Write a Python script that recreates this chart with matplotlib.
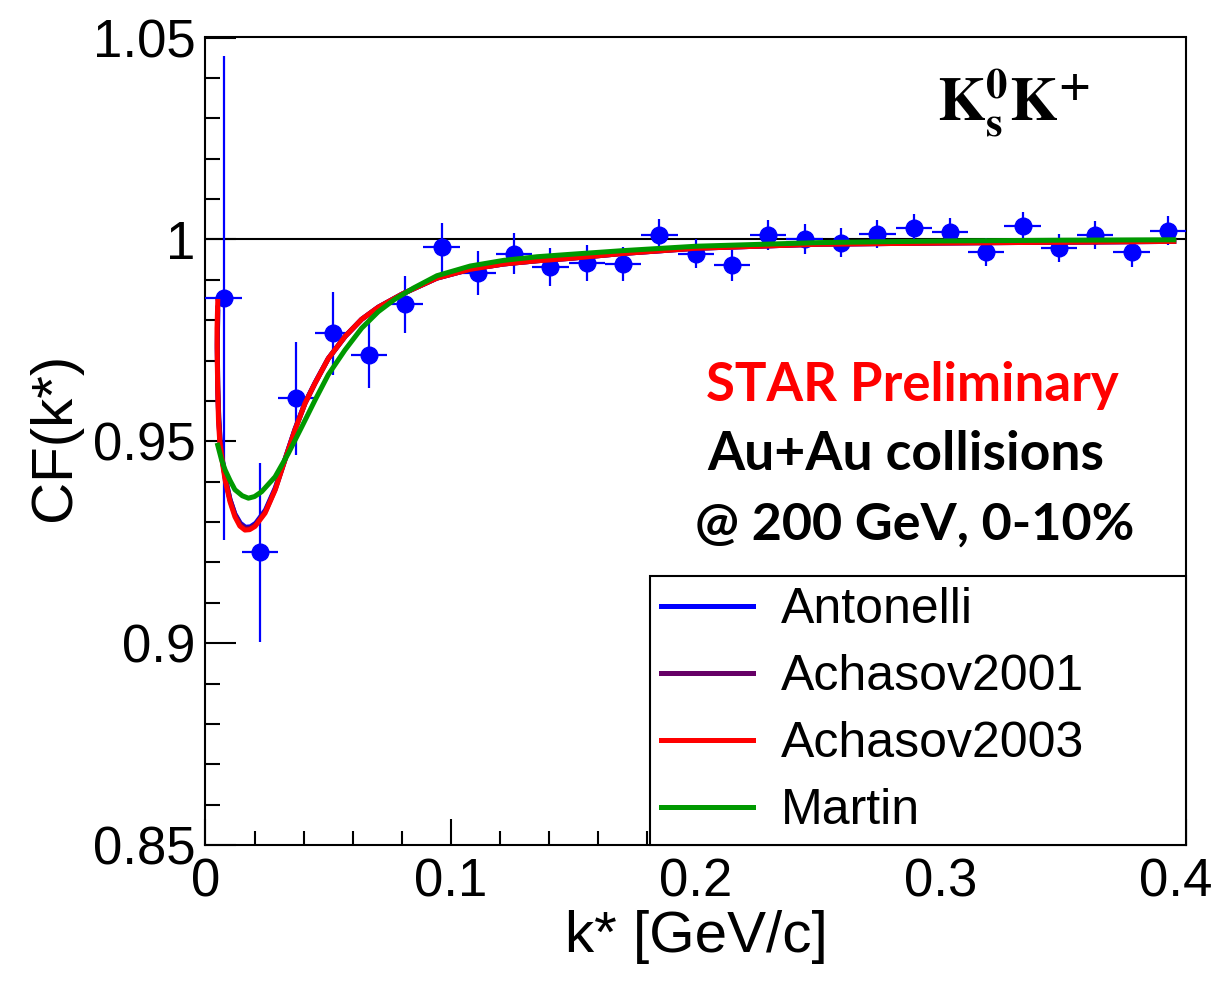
import matplotlib
matplotlib.use("Agg")
import matplotlib.pyplot as plt
import matplotlib.transforms as mtransforms
from matplotlib.ticker import MultipleLocator

plt.rcParams["font.family"] = ["Liberation Sans", "DejaVu Sans"]
plt.rcParams["mathtext.fontset"] = "stix"

# measured K0s K+ correlation function (bin centres, value, stat. error)
k_data = [0.0074, 0.0222, 0.0370, 0.0519, 0.0667, 0.0815, 0.0963, 0.1111, 0.1259,
          0.1407, 0.1556, 0.1704, 0.1852, 0.2000, 0.2148, 0.2296, 0.2444, 0.2593,
          0.2741, 0.2889, 0.3037, 0.3185, 0.3333, 0.3481, 0.3630, 0.3778, 0.3926]
cf_data = [0.9855, 0.9225, 0.9607, 0.9767, 0.9713, 0.9839, 0.9980, 0.9917, 0.9965,
           0.9931, 0.9941, 0.9939, 1.0011, 0.9965, 0.9936, 1.0011, 1.0001, 0.9992,
           1.0013, 1.0029, 1.0019, 0.9969, 1.0033, 0.9979, 1.0011, 0.9968, 1.0021]
cf_err = [0.0600, 0.0222, 0.0140, 0.0103, 0.0080, 0.0070, 0.0060, 0.0054, 0.0050,
          0.0047, 0.0045, 0.0042, 0.0040, 0.0037, 0.0038, 0.0037, 0.0036, 0.0035,
          0.0034, 0.0034, 0.0034, 0.0035, 0.0035, 0.0034, 0.0035, 0.0036, 0.0036]
k_halfwidth = 0.0074

# model curves
k_achasov03 = [0.0050, 0.0047, 0.0048, 0.0050, 0.0053, 0.0058, 0.0068, 0.0080, 0.0100,
               0.0120, 0.0140, 0.0161, 0.0180, 0.0202, 0.0243, 0.0284, 0.0324, 0.0365,
               0.0406, 0.0447, 0.0501, 0.0570, 0.0637, 0.0705, 0.0807, 0.0944, 0.1080,
               0.1216, 0.1352, 0.1488, 0.1700, 0.2000, 0.2500, 0.3000, 0.3500, 0.3950]
cf_achasov03 = [0.9846, 0.9780, 0.9700, 0.9620, 0.9550, 0.9500, 0.9450, 0.9404, 0.9350,
                0.9313, 0.9290, 0.9280, 0.9281, 0.9289, 0.9322, 0.9379, 0.9454, 0.9528,
                0.9594, 0.9644, 0.9705, 0.9760, 0.9802, 0.9832, 0.9866, 0.9904, 0.9926,
                0.9939, 0.9947, 0.9953, 0.9965, 0.9978, 0.9988, 0.9991, 0.9993, 0.9995]

k_achasov01 = [0.0050, 0.0048, 0.0050, 0.0054, 0.0060, 0.0070, 0.0082, 0.0100, 0.0120,
               0.0142, 0.0163, 0.0183, 0.0205, 0.0245, 0.0285, 0.0325, 0.0365, 0.0406,
               0.0447, 0.0501, 0.0570, 0.0637, 0.0705, 0.0807, 0.0944, 0.1080, 0.1216,
               0.1352, 0.1488, 0.1700, 0.2000, 0.2500, 0.3000, 0.3500, 0.3950]
cf_achasov01 = [0.9830, 0.9740, 0.9640, 0.9560, 0.9500, 0.9450, 0.9405, 0.9355, 0.9318,
                0.9294, 0.9284, 0.9285, 0.9294, 0.9327, 0.9382, 0.9455, 0.9528, 0.9594,
                0.9644, 0.9705, 0.9760, 0.9802, 0.9832, 0.9866, 0.9904, 0.9926, 0.9939,
                0.9947, 0.9953, 0.9965, 0.9978, 0.9988, 0.9991, 0.9993, 0.9995]

k_antonelli = [0.0050, 0.0048, 0.0050, 0.0054, 0.0060, 0.0070, 0.0082, 0.0100, 0.0120,
               0.0142, 0.0163, 0.0183, 0.0205, 0.0245, 0.0285, 0.0325, 0.0365, 0.0406,
               0.0447, 0.0501, 0.0570, 0.0637, 0.0705, 0.0807, 0.0944, 0.1080, 0.1216,
               0.1352, 0.1488, 0.1700, 0.2000, 0.2500, 0.3000, 0.3500, 0.3950]
cf_antonelli = [0.9820, 0.9730, 0.9630, 0.9555, 0.9495, 0.9448, 0.9404, 0.9356, 0.9320,
                0.9297, 0.9287, 0.9288, 0.9297, 0.9330, 0.9385, 0.9457, 0.9530, 0.9595,
                0.9645, 0.9705, 0.9760, 0.9802, 0.9832, 0.9866, 0.9904, 0.9926, 0.9939,
                0.9947, 0.9953, 0.9965, 0.9978, 0.9988, 0.9991, 0.9993, 0.9995]

k_martin = [0.0050, 0.0065, 0.0080, 0.0100, 0.0120, 0.0150, 0.0175, 0.0200, 0.0229,
            0.0284, 0.0338, 0.0393, 0.0447, 0.0501, 0.0569, 0.0637, 0.0705, 0.0773,
            0.0850, 0.0944, 0.1080, 0.1216, 0.1352, 0.1488, 0.1700, 0.2000, 0.2500,
            0.3000, 0.3500, 0.3950]
cf_martin = [0.9490, 0.9455, 0.9429, 0.9403, 0.9380, 0.9365, 0.9359, 0.9363, 0.9375,
             0.9412, 0.9470, 0.9536, 0.9602, 0.9665, 0.9726, 0.9780, 0.9821, 0.9852,
             0.9880, 0.9910, 0.9934, 0.9948, 0.9957, 0.9963, 0.9972, 0.9983, 0.9992,
             0.9996, 0.9998, 0.9999]

x_ticks = [0.0, 0.1, 0.2, 0.3, 0.4]
x_ticklabels = ["0", "0.1", "0.2", "0.3", "0.4"]
y_ticks = [0.85, 0.90, 0.95, 1.00, 1.05]
y_ticklabels = ["0.85", "0.9", "0.95", "1", "1.05"]

W, H = 1218, 988
fig = plt.figure(figsize=(W / 100, H / 100), dpi=100)
ax = fig.add_axes([205.5 / W, 1 - 845 / H, 980.5 / W, 807.5 / H])

ax.axhline(1.0, color="black", lw=1.5, zorder=2)
ax.errorbar(k_data, cf_data, xerr=k_halfwidth, yerr=cf_err, fmt="o", color="blue",
            ms=12, elinewidth=1.6, capsize=0, zorder=3)

ax.plot(k_antonelli, cf_antonelli, color="blue", lw=3.6, label="Antonelli", zorder=4)
ax.plot(k_achasov01, cf_achasov01, color="#660066", lw=3.6, label="Achasov2001", zorder=5)
ax.plot(k_achasov03, cf_achasov03, color="red", lw=3.6, label="Achasov2003", zorder=6)
ax.plot(k_martin, cf_martin, color="#009900", lw=3.6, label="Martin", zorder=7)

ax.set_xlim(0, 0.4)
ax.set_ylim(0.85, 1.05)
ax.set_xticks(x_ticks)
ax.set_xticklabels(x_ticklabels)
ax.set_yticks(y_ticks)
ax.set_yticklabels(y_ticklabels)
ax.xaxis.set_minor_locator(MultipleLocator(0.02))
ax.yaxis.set_minor_locator(MultipleLocator(0.01))
ax.tick_params(which="both", direction="in", top=False, right=False,
               labelsize=38, width=1.5, color="black")
ax.tick_params(axis="x", which="major", length=19, pad=9)
ax.tick_params(axis="x", which="minor", length=10)
ax.tick_params(axis="y", which="major", length=22, pad=7)
ax.tick_params(axis="y", which="minor", length=11)
for s in ax.spines.values():
    s.set_linewidth(1.5)

# last x label sits a little left of its tick, as in the original
last = ax.get_xticklabels()[-1]
last.set_transform(last.get_transform() +
                   mtransforms.ScaledTranslation(-10 / 100, 0, fig.dpi_scale_trans))

ax.set_xlabel("k* [GeV/c]", fontsize=42, va="center")
ax.xaxis.set_label_coords(0.501, -0.114)
ax.set_ylabel("CF(k*)", fontsize=42, va="center")
ax.yaxis.set_label_coords(-0.1535, 0.506)

leg = ax.legend(loc="lower left", bbox_to_anchor=(0.4533, 0.0, 0.5467, 0.334),
                mode="expand", borderaxespad=0, fontsize=36, handlelength=1.85,
                handletextpad=0.55, labelspacing=0.42, borderpad=0.22,
                fancybox=False, framealpha=1)
leg.get_frame().set_edgecolor("black")
leg.get_frame().set_linewidth(1.5)
leg.set_zorder(10)

fig.text(937 / W, 1 - 120 / H, r"$\mathbf{K}_{\mathbf{s}}^{\mathbf{0}}\mathbf{K}^{\mathbf{+}}$",
         fontsize=44, ha="left", va="baseline")

bold = dict(family=["Lato", "DejaVu Sans"], fontweight="bold", ha="center", va="center")
fig.text(912 / W, 1 - 385 / H, "STAR Preliminary", color="red", fontsize=38, **bold)
fig.text(906 / W, 1 - 455 / H, "Au+Au collisions", color="black", fontsize=38.5, **bold)
fig.text(915 / W, 1 - 525 / H, "@ 200 GeV, 0-10%", color="black", fontsize=37.5, **bold)

fig.savefig("out.png", dpi=100)
plt.close(fig)
